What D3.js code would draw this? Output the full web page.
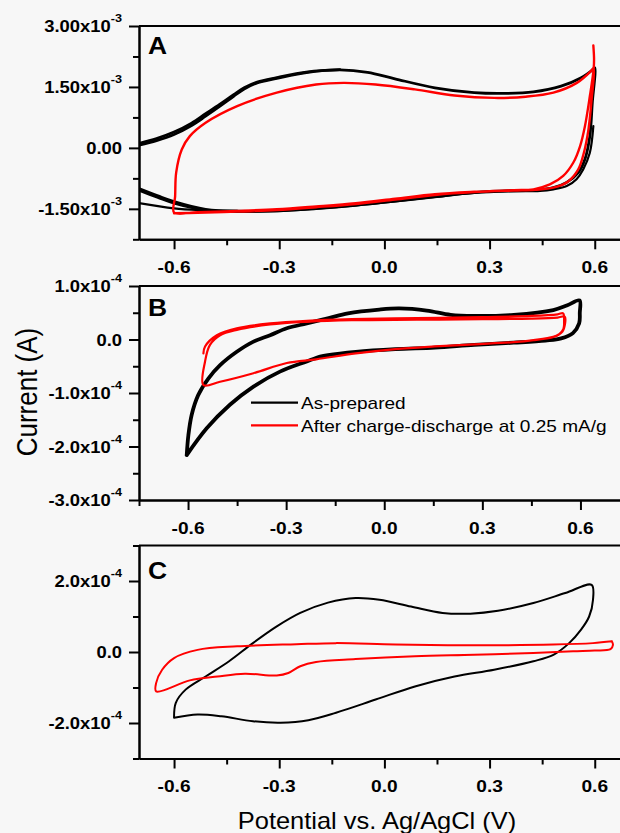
<!DOCTYPE html>
<html>
<head>
<meta charset="utf-8">
<script src="https://cdn.jsdelivr.net/npm/d3@7"></script>
<style>
  html, body { margin: 0; padding: 0; background: #f7f7f7; }
  svg { display: block; }
</style>
</head>
<body>
<svg id="chart" width="620" height="833"></svg>
<script>
// ---------------- data ----------------
// Potential in V, current in panel units (A: 1e-3 A, B and C: 1e-4 A)

// Panel A — as-prepared (black): first partial sweep, full cycles, extra overlapping cycle pieces
const aBlackStart = [[0.596,0.535],[0.586,-0.12],[0.567,-0.53],[0.548,-0.77],[0.52,-0.94],[0.482,-1.02],[0.444,-1.06],[0.369,-1.07],[0.256,-1.11],[0.144,-1.21],[0.031,-1.32],[-0.082,-1.42],[-0.195,-1.50],[-0.307,-1.56],[-0.42,-1.57],[-0.51,-1.54],[-0.6,-1.49],[-0.7,-1.36]];
const aBlackCycle = [[-0.7,0.07],[-0.65,0.18],[-0.6,0.33],[-0.55,0.55],[-0.51,0.78],[-0.47,1.02],[-0.43,1.27],[-0.40,1.45],[-0.363,1.60],[-0.307,1.71],[-0.218,1.86],[-0.127,1.92],[-0.048,1.86],[0.03,1.70],[0.144,1.48],[0.256,1.36],[0.335,1.34],[0.425,1.38],[0.504,1.52],[0.56,1.72],[0.595,1.93],[0.6,1.97],[0.593,1.11],[0.586,0.29],[0.572,-0.28],[0.553,-0.61],[0.52,-0.85],[0.482,-0.98],[0.434,-1.04],[0.369,-1.05],[0.256,-1.10],[0.144,-1.20],[0.031,-1.31],[-0.082,-1.41],[-0.195,-1.49],[-0.307,-1.55],[-0.42,-1.56],[-0.51,-1.53],[-0.6,-1.36],[-0.646,-1.22],[-0.7,-1.04]];
const aBlackUpper2 = [[-0.7,0.11],[-0.65,0.23],[-0.6,0.39],[-0.55,0.61],[-0.51,0.84],[-0.47,1.07],[-0.43,1.31],[-0.40,1.48],[-0.363,1.62],[-0.307,1.73],[-0.218,1.87],[-0.127,1.925]];
const aBlackLower2 = [[-0.42,-1.555],[-0.51,-1.51],[-0.6,-1.32],[-0.646,-1.18],[-0.7,-1.0]];

// Panel A — after charge-discharge (red)
const aRed = [[0.596,2.52],[0.598,2.2],[0.597,1.95],[0.586,1.27],[0.572,0.535],[0.558,0.04],[0.539,-0.36],[0.51,-0.69],[0.472,-0.90],[0.425,-1.02],[0.369,-1.04],[0.256,-1.08],[0.144,-1.14],[0.031,-1.25],[-0.082,-1.36],[-0.195,-1.44],[-0.307,-1.51],[-0.42,-1.55],[-0.533,-1.58],[-0.6,-1.59],[-0.597,-1.2],[-0.594,-0.61],[-0.578,-0.04],[-0.555,0.29],[-0.51,0.62],[-0.42,1.03],[-0.307,1.36],[-0.195,1.56],[-0.116,1.60],[-0.025,1.56],[0.087,1.44],[0.2,1.29],[0.313,1.23],[0.403,1.26],[0.482,1.36],[0.549,1.60],[0.589,1.89],[0.597,1.97],[0.591,1.19],[0.582,0.45],[0.569,-0.12],[0.553,-0.53],[0.525,-0.82],[0.482,-0.98],[0.43,-1.03],[0.369,-1.05],[0.256,-1.09],[0.144,-1.16],[0.031,-1.27],[-0.082,-1.38],[-0.195,-1.46],[-0.307,-1.53],[-0.42,-1.57],[-0.533,-1.60],[-0.6,-1.61]];

// Panel B
const bBlack = [[-0.604,-2.16],[-0.599,-1.79],[-0.589,-1.41],[-0.569,-1.04],[-0.538,-0.73],[-0.502,-0.48],[-0.451,-0.23],[-0.4,-0.04],[-0.349,0.08],[-0.298,0.21],[-0.237,0.30],[-0.17,0.40],[-0.111,0.49],[-0.015,0.56],[0.046,0.58],[0.13,0.54],[0.203,0.46],[0.275,0.44],[0.396,0.46],[0.517,0.55],[0.56,0.64],[0.597,0.73],[0.598,0.50],[0.596,0.30],[0.577,0.12],[0.541,0.02],[0.493,-0.02],[0.396,-0.06],[0.275,-0.10],[0.155,-0.15],[0.034,-0.18],[-0.087,-0.23],[-0.172,-0.29],[-0.196,-0.32],[-0.237,-0.41],[-0.319,-0.60],[-0.4,-0.88],[-0.472,-1.22],[-0.543,-1.66],[-0.604,-2.16]];
const bRed = [[-0.553,-0.26],[-0.548,-0.13],[-0.512,0.08],[-0.451,0.21],[-0.349,0.30],[-0.237,0.35],[-0.1,0.38],[0.1,0.40],[0.3,0.42],[0.45,0.44],[0.53,0.47],[0.547,0.49],[0.55,0.35],[0.548,0.2],[0.535,0.1],[0.517,0.05],[0.457,-0.01],[0.396,-0.05],[0.275,-0.09],[0.155,-0.13],[0.034,-0.18],[-0.087,-0.26],[-0.208,-0.37],[-0.298,-0.44],[-0.4,-0.63],[-0.502,-0.79],[-0.553,-0.85],[-0.548,-0.41],[-0.533,-0.10],[-0.502,0.08],[-0.451,0.18],[-0.349,0.28],[-0.237,0.33],[-0.1,0.36],[0.1,0.37],[0.3,0.38],[0.45,0.39],[0.53,0.41],[0.552,0.43],[0.553,0.3],[0.545,0.15],[0.52,0.05],[0.46,-0.01]];

// Panel C
const cBlack = [[-0.6,-1.85],[-0.595,-1.43],[-0.567,-1.06],[-0.51,-0.69],[-0.443,-0.26],[-0.375,0.25],[-0.307,0.72],[-0.24,1.10],[-0.161,1.39],[-0.082,1.52],[-0.014,1.47],[0.076,1.28],[0.166,1.10],[0.245,1.08],[0.324,1.16],[0.425,1.38],[0.516,1.66],[0.591,1.89],[0.595,1.47],[0.584,1.0],[0.561,0.63],[0.527,0.25],[0.482,-0.08],[0.425,-0.26],[0.313,-0.50],[0.2,-0.69],[0.087,-0.97],[-0.025,-1.34],[-0.138,-1.71],[-0.217,-1.92],[-0.296,-1.99],[-0.375,-1.95],[-0.465,-1.81],[-0.533,-1.76],[-0.6,-1.85]];
const cRed = [[0.649,0.30],[0.652,0.2],[0.645,0.08],[0.6,0.04],[0.538,0.02],[0.425,-0.03],[0.256,-0.08],[0.087,-0.12],[-0.082,-0.20],[-0.195,-0.28],[-0.24,-0.40],[-0.274,-0.59],[-0.307,-0.66],[-0.398,-0.61],[-0.476,-0.69],[-0.555,-0.80],[-0.651,-1.11],[-0.651,-0.87],[-0.634,-0.50],[-0.6,-0.17],[-0.533,0.06],[-0.42,0.16],[-0.251,0.22],[-0.138,0.25],[0.031,0.21],[0.256,0.19],[0.482,0.21],[0.595,0.25],[0.649,0.30]];

// Ticks and labels
const xMajor = [-0.6, -0.3, 0.0, 0.3, 0.6];
const xMajorLabels = ["-0.6", "-0.3", "0.0", "0.3", "0.6"];
const xMinor = [-0.45, -0.15, 0.15, 0.45];
const xMinorB = [-0.75, -0.45, -0.15, 0.15, 0.45];

const aYMajor = [3.0, 1.5, 0, -1.5];
const aYLabels = ["3.00x10^-3", "1.50x10^-3", "0.00", "-1.50x10^-3"];
const aYMinor = [2.25, 0.75, -0.75, -2.25];

const bYMajor = [1, 0, -1, -2, -3];
const bYLabels = ["1.0x10^-4", "0.0", "-1.0x10^-4", "-2.0x10^-4", "-3.0x10^-4"];
const bYMinor = [0.5, -0.5, -1.5, -2.5];

const cYMajor = [2, 0, -2];
const cYLabels = ["2.0x10^-4", "0.0", "-2.0x10^-4"];
const cYMinor = [3, 1, -1, -3];

const legendNames = ["As-prepared", "After charge-discharge at 0.25 mA/g"];
const seriesColors = ["#000000", "#ff0000"];

// ---------------- drawing ----------------
const svg = d3.select("#chart");
const FONT = "Liberation Sans, Arial, Helvetica, sans-serif";

svg.append("rect").attr("width", 620).attr("height", 833).attr("fill", "#f7f7f7");

function addText(g, x, y, str, o) {
  const [main, sup] = str.split("^");
  const t = g.append("text")
    .attr("transform", `translate(${x},${y}) scale(${o.sx || 1},1)`)
    .attr("text-anchor", o.anchor || "start")
    .attr("font-family", FONT)
    .attr("font-size", o.size)
    .attr("font-weight", o.weight || "normal")
    .attr("fill", "#000");
  t.append("tspan").text(main);
  if (sup) t.append("tspan").attr("dy", -10).attr("font-size", 11).text(sup);
  return t;
}

const panels = [
  { id: "A", xDomain: [-0.7, 0.7], xRange: [139, 629.8], yDomain: [-2.25, 3.0], yRange: [239.3, 26],
    yMajor: aYMajor, yLabels: aYLabels, yMinor: aYMinor, xMinor: xMinor, letterY: 54,
    series: [
      { data: aBlackStart, color: seriesColors[0], w: 2.2 },
      { data: aBlackCycle, color: seriesColors[0], w: 2.8 },
      { data: aBlackUpper2, color: seriesColors[0], w: 2.8 },
      { data: aBlackLower2, color: seriesColors[0], w: 2.6 },
      { data: aRed, color: seriesColors[1], w: 2.4 }
    ] },
  { id: "B", xDomain: [-0.75, 0.75], xRange: [139, 629.5], yDomain: [-3, 1], yRange: [500, 286],
    yMajor: bYMajor, yLabels: bYLabels, yMinor: bYMinor, xMinor: xMinorB, letterY: 316,
    series: [
      { data: bBlack, color: seriesColors[0], w: 3.8 },
      { data: bRed, color: seriesColors[1], w: 2.2 }
    ] },
  { id: "C", xDomain: [-0.7, 0.7], xRange: [139, 629.8], yDomain: [-3, 3], yRange: [758.5, 545.5],
    yMajor: cYMajor, yLabels: cYLabels, yMinor: cYMinor, xMinor: xMinor, letterY: 579,
    series: [
      { data: cBlack, color: seriesColors[0], w: 2.0 },
      { data: cRed, color: seriesColors[1], w: 2.0 }
    ] }
];

panels.forEach(p => {
  const x = d3.scaleLinear().domain(p.xDomain).range(p.xRange);
  const y = d3.scaleLinear().domain(p.yDomain).range(p.yRange);
  const g = svg.append("g");
  const clipId = "clip" + p.id;

  g.append("clipPath").attr("id", clipId).append("rect")
    .attr("x", p.xRange[0]).attr("y", p.yRange[1])
    .attr("width", p.xRange[1] - p.xRange[0]).attr("height", p.yRange[0] - p.yRange[1]);

  // curves
  const line = d3.line()
    .x(d => x(d[0])).y(d => y(d[1]))
    .curve(d3.curveCatmullRom.alpha(0.5));
  const cg = g.append("g").attr("clip-path", `url(#${clipId})`);
  p.series.forEach(s => {
    cg.append("path").datum(s.data)
      .attr("d", line)
      .attr("fill", "none")
      .attr("stroke", s.color)
      .attr("stroke-width", s.w)
      .attr("stroke-linejoin", "round")
      .attr("stroke-linecap", "round");
  });

  // axes
  const axStyle = sel => {
    sel.selectAll("path, line").attr("stroke", "#000").attr("stroke-width", 2);
    sel.selectAll("text").remove();
  };
  g.append("g").attr("transform", `translate(0,${p.yRange[0]})`)
    .call(d3.axisBottom(x).tickValues(xMajor).tickSize(10).tickSizeOuter(0)).call(axStyle);
  g.append("g").attr("transform", `translate(0,${p.yRange[0]})`)
    .call(d3.axisBottom(x).tickValues(p.xMinor).tickSize(6).tickSizeOuter(0)).call(axStyle);
  g.append("g").attr("transform", `translate(${p.xRange[0]},0)`)
    .call(d3.axisLeft(y).tickValues(p.yMajor).tickSize(10).tickSizeOuter(0)).call(axStyle);
  g.append("g").attr("transform", `translate(${p.xRange[0]},0)`)
    .call(d3.axisLeft(y).tickValues(p.yMinor).tickSize(6).tickSizeOuter(0)).call(axStyle);
  // top frame line
  g.append("line")
    .attr("x1", p.xRange[0]).attr("x2", p.xRange[1])
    .attr("y1", p.yRange[1]).attr("y2", p.yRange[1])
    .attr("stroke", "#000").attr("stroke-width", 2);

  // tick labels
  xMajor.forEach((v, i) => addText(g, x(v), p.yRange[0] + 33.5, xMajorLabels[i],
    { size: 16.5, weight: "bold", anchor: "middle", sx: 1.16 }));
  p.yMajor.forEach((v, i) => addText(g, 122, y(v) + 6.3, p.yLabels[i],
    { size: 16, weight: "bold", anchor: "end", sx: 1.15 }));

  // panel letter
  addText(g, 148, p.letterY, p.id, { size: 24, weight: "bold", sx: 1.1 });

  // legend in panel B
  if (p.id === "B") {
    const lg = g.append("g");
    const rows = [402.7, 425.3];
    legendNames.forEach((name, i) => {
      lg.append("line").attr("x1", 251).attr("x2", 298)
        .attr("y1", rows[i]).attr("y2", rows[i])
        .attr("stroke", seriesColors[i]).attr("stroke-width", 2.2);
      addText(lg, 301, rows[i] + 6.2, name, { size: 17, sx: 1.12 });
    });
  }
});

// axis titles
addText(svg, 377, 829, "Potential vs. Ag/AgCl (V)", { size: 24, anchor: "middle", sx: 1.06 });
svg.append("text")
  .attr("transform", "translate(37,392) rotate(-90) scale(1,1.1)")
  .attr("text-anchor", "middle")
  .attr("font-family", FONT)
  .attr("font-size", 26)
  .attr("fill", "#000")
  .text("Current (A)");
</script>
</body>
</html>
